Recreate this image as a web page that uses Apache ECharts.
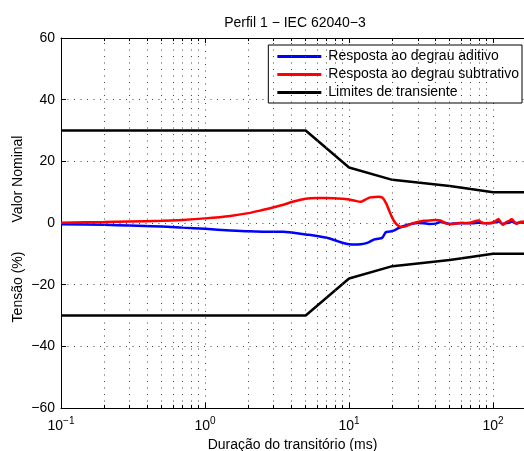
<!DOCTYPE html>
<html>
<head>
<meta charset="utf-8">
<script src="https://cdn.jsdelivr.net/npm/echarts@6/dist/echarts.min.js"></script>
<style>
  html, body { margin: 0; padding: 0; background: #fff; }
  #chart { width: 524px; height: 451px; }
</style>
</head>
<body>
<div id="chart"></div>
<script>
// Transient response profile (IEC 62040-3, profile 1), time axis in ms (log scale)
var tResp = [0.1, 0.2, 0.3, 0.5, 0.7, 1.0, 1.5, 2.0, 2.5, 3.0, 3.5, 4.0, 5.0, 6.0, 7.0, 8.0, 9.0,
  10, 11, 12, 13, 14, 15, 16, 17, 18, 19, 20, 21, 22, 23, 25, 27, 30, 33, 36, 40, 43, 47, 50, 53,
  57, 61, 66, 72, 79, 86, 92, 98, 104, 109, 113, 117, 122, 128, 135, 140, 146, 152, 158, 164];

// Response to the additive step (%)
var respAditivo = [-0.4, -0.6, -0.8, -1.1, -1.5, -1.9, -2.4, -2.7, -2.8, -2.8, -2.8, -3.1, -3.7, -4.2, -4.8, -5.6, -6.4,
  -6.9, -7.0, -6.9, -6.6, -6.0, -5.3, -5.1, -4.8, -3.0, -2.8, -2.6, -2.2, -1.7, -1.3, -0.7, -0.3, 0.0, -0.1, -0.3, -0.2, 0.3, 0.0, -0.3, -0.2,
  -0.1, -0.1, 0.0, -0.1, 0.1, 0.0, -0.1, 0.1, 0.2, 0.5, 0.1, -0.3, -0.1, 0.1, 0.5, 0.1, 0.0, 0.1, 0.2, 0.2];

// Response to the subtractive step (%)
var respSubtrativo = [0.1, 0.3, 0.5, 0.7, 1.0, 1.5, 2.3, 3.2, 4.2, 5.1, 5.9, 6.8, 7.9, 8.1, 8.1, 8.0, 7.9,
  7.6, 7.2, 6.9, 7.6, 8.3, 8.4, 8.5, 8.3, 6.6, 4.0, 1.6, 0.0, -0.9, -1.3, -1.0, -0.3, 0.3, 0.7, 0.8, 1.0, 0.8, -0.1, -0.3, -0.3,
  -0.1, 0.1, -0.1, 0.3, 0.8, -0.1, 0.0, -0.1, 0.6, 1.3, 0.2, -0.6, 0.1, 0.6, 1.2, 0.4, -0.3, 0.2, 0.4, 0.5];

// Transient tolerance limits (%)
var tLimite = [0.1, 5, 10, 20, 30, 50, 70, 100, 164];
var limiteSup = [30, 30, 18, 14, 13.1, 12, 11, 10, 10];
var limiteInf = [-30, -30, -18, -14, -13.1, -12, -11, -10, -10];

// Minor grid / minor tick positions on the time axis
var gradeMenor = [0.2, 0.3, 0.4, 0.5, 0.6, 0.7, 0.8, 0.9, 2, 3, 4, 5, 6, 7, 8, 9, 20, 30, 40, 50, 60, 70, 80, 90];

var yTicks = [-60, -40, -20, 0, 20, 40, 60];

var FONT = '"Liberation Sans", Arial, Helvetica, sans-serif';
var dotted = { color: '#444', width: 1, type: [1, 5.5] };
var Y_MIN = yTicks[0];
var Y_MAX = yTicks[yTicks.length - 1];
var MINOR_LEN = 1; // minor tick length in y units

function pares(xs, ys) {
  return xs.map(function (x, i) { return [x, ys[i]]; });
}

// Short inside tick segments along the bottom and top frame edges
var minorTicks = [];
gradeMenor.forEach(function (x) {
  minorTicks.push([{ coord: [x, Y_MIN] }, { coord: [x, Y_MIN + MINOR_LEN] }]);
  minorTicks.push([{ coord: [x, Y_MAX] }, { coord: [x, Y_MAX - MINOR_LEN] }]);
});

var chart = echarts.init(document.getElementById('chart'), null, { renderer: 'canvas' });

var option = {
  animation: false,
  backgroundColor: '#fff',
  textStyle: { fontFamily: FONT, color: '#000' },
  title: {
    text: 'Perfil 1 − IEC 62040−3',
    left: 295,
    textAlign: 'center',
    top: 16,
    padding: 0,
    textStyle: { fontFamily: FONT, fontSize: 14, fontWeight: 'normal', color: '#000' }
  },
  legend: {
    data: ['Resposta ao degrau aditivo', 'Resposta ao degrau subtrativo', 'Limites de transiente'],
    orient: 'vertical',
    right: 2,
    top: 45,
    backgroundColor: '#fff',
    borderColor: '#000',
    borderWidth: 1,
    borderRadius: 0,
    padding: [4, 3, 3, 9],
    itemGap: 3,
    itemWidth: 44,
    itemHeight: 3,
    icon: 'rect',
    textStyle: { fontFamily: FONT, fontSize: 14, color: '#000', lineHeight: 15, padding: [0, 0, 0, 2] }
  },
  grid: { left: 61, right: 0, top: 38, bottom: 43, containLabel: false, outerBoundsMode: 'none' },
  xAxis: [{
    type: 'log',
    logBase: 10,
    min: 0.1,
    max: 164,
    name: 'Duração do transitório (ms)',
    nameLocation: 'middle',
    nameGap: 28,
    nameTextStyle: { fontFamily: FONT, fontSize: 14, color: '#000' },
    axisLine: { onZero: false, lineStyle: { color: '#000', width: 1 } },
    axisTick: { inside: true, length: 5, lineStyle: { color: '#000' } },
    splitLine: { show: true, lineStyle: dotted },
    axisLabel: {
      margin: 8,
      color: '#000',
      formatter: function (v) {
        var e = Math.log10(v);
        if (Math.abs(e - Math.round(e)) > 0.01) return '';
        var r = Math.round(e);
        return '{b|10}{s|' + (r < 0 ? '−' + (-r) : r) + '}';
      },
      rich: {
        b: { fontFamily: FONT, fontSize: 14, color: '#000' },
        s: { fontFamily: FONT, fontSize: 10, color: '#000', padding: [0, 0, 10, 0] }
      }
    }
  }, {
    type: 'log',
    logBase: 10,
    min: 0.1,
    max: 164,
    position: 'top',
    axisLine: { onZero: false, lineStyle: { color: '#000', width: 1 } },
    axisTick: { inside: true, length: 5, lineStyle: { color: '#000' } },
    axisLabel: { show: false },
    splitLine: { show: false }
  }],
  yAxis: {
    type: 'value',
    min: Y_MIN,
    max: Y_MAX,
    interval: 20,
    axisLine: { show: true, onZero: false, lineStyle: { color: '#000', width: 1 } },
    axisTick: { show: true, inside: true, length: 5, lineStyle: { color: '#000' } },
    splitLine: { show: true, lineStyle: dotted },
    axisLabel: {
      margin: 6,
      color: '#000',
      fontFamily: FONT,
      fontSize: 14,
      formatter: function (v) { return v < 0 ? '−' + (-v) : String(v); }
    }
  },
  graphic: [
    {
      type: 'text', x: 18, y: 179, rotation: Math.PI / 2,
      style: { text: 'Valor Nominal', font: '14px ' + FONT, fill: '#000', textAlign: 'center', textVerticalAlign: 'middle' }
    },
    {
      type: 'text', x: 18, y: 287, rotation: Math.PI / 2,
      style: { text: 'Tensão (%)', font: '14px ' + FONT, fill: '#000', textAlign: 'center', textVerticalAlign: 'middle' }
    }
  ],
  series: [
    {
      name: 'grade',
      type: 'line',
      data: [],
      silent: true,
      markLine: {
        silent: true,
        symbol: 'none',
        label: { show: false },
        lineStyle: dotted,
        data: gradeMenor.map(function (x) { return { xAxis: x }; })
      }
    },
    {
      name: 'marcas menores',
      type: 'line',
      data: [],
      silent: true,
      markLine: {
        silent: true,
        symbol: 'none',
        label: { show: false },
        lineStyle: { color: '#000', width: 1, type: 'solid' },
        data: minorTicks
      }
    },
    {
      name: 'Limites de transiente',
      type: 'line',
      data: pares(tLimite, limiteSup),
      symbol: 'none',
      lineStyle: { color: '#000', width: 2.5 },
      itemStyle: { color: '#000' },
      z: 3
    },
    {
      name: 'Limites de transiente',
      type: 'line',
      data: pares(tLimite, limiteInf),
      symbol: 'none',
      lineStyle: { color: '#000', width: 2.5 },
      itemStyle: { color: '#000' },
      z: 3
    },
    {
      name: 'Resposta ao degrau aditivo',
      type: 'line',
      data: pares(tResp, respAditivo),
      symbol: 'none',
      smooth: 0.3,
      lineStyle: { color: '#0000ff', width: 2.5 },
      itemStyle: { color: '#0000ff' },
      z: 4
    },
    {
      name: 'Resposta ao degrau subtrativo',
      type: 'line',
      data: pares(tResp, respSubtrativo),
      symbol: 'none',
      smooth: 0.3,
      lineStyle: { color: '#ff0000', width: 2.5 },
      itemStyle: { color: '#ff0000' },
      z: 5
    }
  ]
};

chart.setOption(option);
</script>
</body>
</html>
